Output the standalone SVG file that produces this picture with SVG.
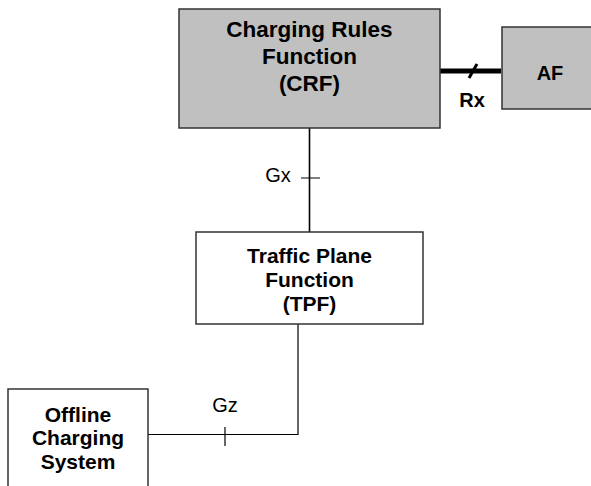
<svg xmlns="http://www.w3.org/2000/svg" width="591" height="486" viewBox="0 0 591 486">
<style>
.box{stroke:#333;stroke-width:1.5}
.grey{fill:#c0c0c0}
.white{fill:#fff}
text{font-family:"Liberation Sans",Arial,sans-serif;fill:#000;text-anchor:middle}
.b{font-weight:bold}
.ln{fill:none;stroke:#000}
</style>
<rect width="591" height="486" fill="#fff"/>
<g id="connectors">
<line class="ln" x1="440" y1="71" x2="501" y2="71" stroke-width="5"/>
<line class="ln" x1="469" y1="78" x2="477" y2="64" stroke-width="3"/>
<line class="ln" x1="309.5" y1="128" x2="309.5" y2="232" stroke-width="1.6"/>
<line class="ln" x1="301" y1="178" x2="320" y2="178" stroke-width="1"/>
<polyline class="ln" points="298,324 298,434.5 147,434.5" stroke="#333" stroke-width="1.2"/>
<line class="ln" x1="225" y1="427" x2="225" y2="446" stroke="#333" stroke-width="1.2"/>
<text x="278" y="182" font-size="20">Gx</text>
<text x="225" y="412" font-size="20">Gz</text>
<text class="b" x="472" y="107" font-size="20">Rx</text>
</g>
<g id="crf">
<rect class="box grey" x="179" y="9" width="261" height="119"/>
<text class="b" x="309.5" y="37" font-size="22.5">Charging Rules</text>
<text class="b" x="309.5" y="64" font-size="22.5">Function</text>
<text class="b" x="309.5" y="91" font-size="22.5">(CRF)</text>
</g>
<g id="af">
<rect class="box grey" x="502" y="27" width="100" height="82"/>
<text class="b" x="550" y="80" font-size="20">AF</text>
</g>
<g id="tpf">
<rect class="box white" x="196" y="232" width="227" height="92"/>
<text class="b" x="309.5" y="263" font-size="21">Traffic Plane</text>
<text class="b" x="309.5" y="287" font-size="21">Function</text>
<text class="b" x="309.5" y="311" font-size="21">(TPF)</text>
</g>
<g id="ocs">
<rect class="box white" x="8" y="389" width="140" height="110"/>
<text class="b" x="78" y="422" font-size="21">Offline</text>
<text class="b" x="78" y="445" font-size="21">Charging</text>
<text class="b" x="78" y="469" font-size="21">System</text>
</g>
</svg>
